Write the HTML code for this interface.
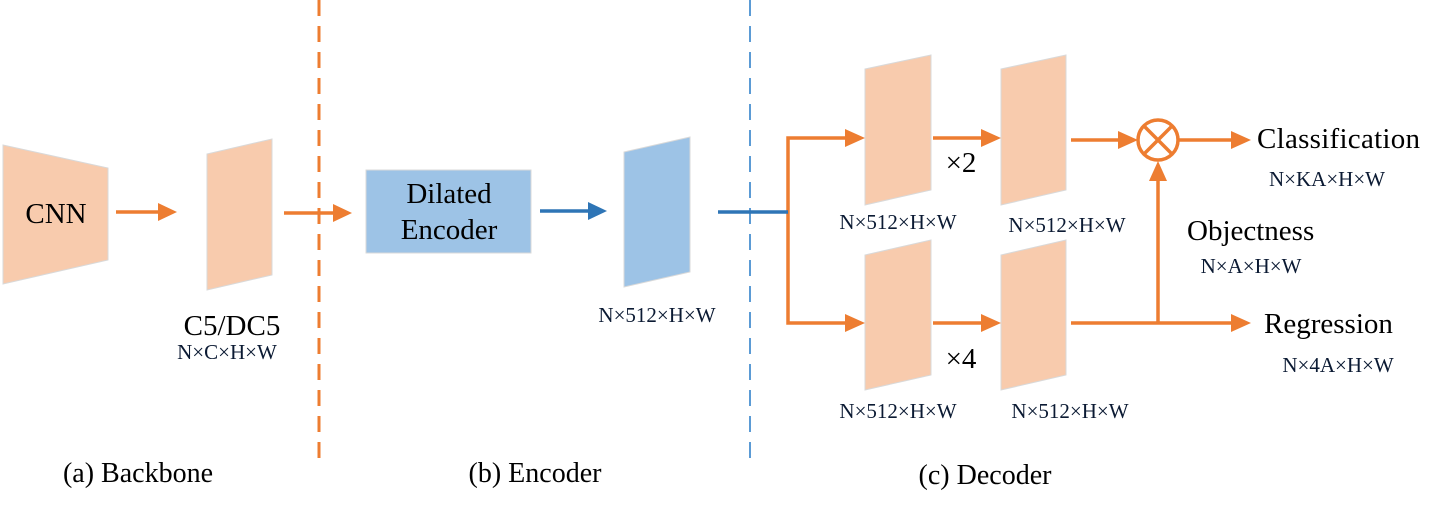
<!DOCTYPE html>
<html><head><meta charset="utf-8"><style>html,body{margin:0;padding:0;background:#fff}svg{display:block}text{font-family:"Liberation Serif",serif}</style></head>
<body>
<svg width="1438" height="508" viewBox="0 0 1438 508" xmlns="http://www.w3.org/2000/svg">
<g fill="#F8CBAD" stroke="#D9D9D9" stroke-width="1">
<polygon points="3,145 108,168 108,260 3,284"/>
<polygon points="207,154 272,139 272,275 207,290"/>
<polygon points="865,69 931,55 931,190 865,205"/>
<polygon points="1001,69 1066,55 1066,190 1001,205"/>
<polygon points="865,255 931,240 931,375 865,390"/>
<polygon points="1001,255 1066,240 1066,375 1001,390"/>
</g>
<g fill="#9DC3E6" stroke="#D9D9D9" stroke-width="1">
<rect x="366" y="170" width="165" height="83"/>
<polygon points="624,152 690,137 690,272 624,287"/>
</g>
<line x1="319" y1="0" x2="319" y2="458" stroke="#ED7D31" stroke-width="3" stroke-dasharray="16,10"/>
<line x1="750" y1="0" x2="750" y2="466" stroke="#5B9BD5" stroke-width="2" stroke-dasharray="16,10"/>
<g stroke="#ED7D31" stroke-width="3.5" fill="none">
<line x1="116" y1="212" x2="160" y2="212"/>
<line x1="284" y1="213" x2="334" y2="213"/>
<polyline points="848,138 788,138 788,323 848,323"/>
<line x1="933" y1="138" x2="983" y2="138"/>
<line x1="933" y1="323" x2="983" y2="323"/>
<line x1="1071" y1="140" x2="1120" y2="140"/>
<line x1="1071" y1="323" x2="1233" y2="323"/>
<line x1="1158" y1="323" x2="1158" y2="180"/>
<line x1="1178" y1="140" x2="1233" y2="140"/>
<circle cx="1158" cy="140" r="20"/>
<line x1="1144" y1="126" x2="1172" y2="154"/>
<line x1="1172" y1="126" x2="1144" y2="154"/>
</g>
<g fill="#ED7D31">
<polygon points="158,203 177,212 158,221"/>
<polygon points="333,204 352,213 333,222"/>
<polygon points="845,129 865,138 845,147"/>
<polygon points="845,314 865,323 845,332"/>
<polygon points="981,129 1001,138 981,147"/>
<polygon points="981,314 1001,323 981,332"/>
<polygon points="1118,131 1138,140 1118,149"/>
<polygon points="1231,131 1251,140 1231,149"/>
<polygon points="1231,314 1251,323 1231,332"/>
<polygon points="1149,181 1158,161 1167,181"/>
</g>
<g stroke="#2E75B6" stroke-width="3.5">
<line x1="540" y1="211" x2="592" y2="211"/>
<line x1="718" y1="212" x2="788" y2="212"/>
</g>
<polygon points="588,202 607,211 588,220" fill="#2E75B6"/>
<g fill="#000" font-size="29">
<text x="56" y="223" text-anchor="middle">CNN</text>
<text x="449" y="203" text-anchor="middle">Dilated</text>
<text x="449" y="239" text-anchor="middle">Encoder</text>
<text x="232" y="335" text-anchor="middle">C5/DC5</text>
<text x="961" y="172" text-anchor="middle">×2</text>
<text x="961" y="368" text-anchor="middle">×4</text>
<text x="1257" y="148" textLength="163">Classification</text>
<text x="1187" y="240">Objectness</text>
<text x="1264" y="333">Regression</text>
<text x="138" y="482" text-anchor="middle" font-size="28">(a) Backbone</text>
<text x="535" y="482" text-anchor="middle" font-size="28">(b) Encoder</text>
<text x="985" y="484" text-anchor="middle" font-size="28">(c) Decoder</text>
</g>
<g fill="#0B1A33" font-size="21">
<text x="227" y="359" text-anchor="middle">N×C×H×W</text>
<text x="657" y="322" text-anchor="middle">N×512×H×W</text>
<text x="898" y="229" text-anchor="middle">N×512×H×W</text>
<text x="1067" y="232" text-anchor="middle">N×512×H×W</text>
<text x="898" y="418" text-anchor="middle">N×512×H×W</text>
<text x="1070" y="418" text-anchor="middle">N×512×H×W</text>
<text x="1327" y="186" text-anchor="middle">N×KA×H×W</text>
<text x="1251" y="273" text-anchor="middle">N×A×H×W</text>
<text x="1338" y="372" text-anchor="middle">N×4A×H×W</text>
</g>
</svg>
</body></html>
